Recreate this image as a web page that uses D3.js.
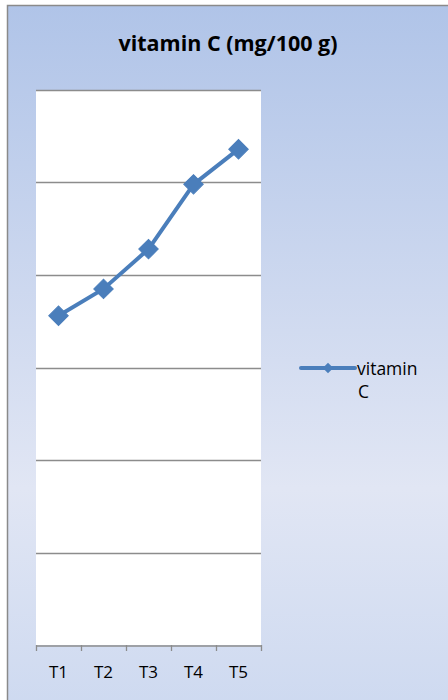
<!DOCTYPE html>
<html><head><meta charset="utf-8">
<script src="https://cdn.jsdelivr.net/npm/d3@7"></script>
<style>html,body{margin:0;padding:0;background:#fff;}svg{display:block;} text{font-family:"Open Sans",sans-serif;}</style>
</head><body>
<script>
const categories = ["T1","T2","T3","T4","T5"];
const values = [35.6, 38.5, 42.8, 49.8, 53.6];
const yTicks = [0,10,20,30,40,50,60];
const seriesName = "vitamin C";
const title = "vitamin C (mg/100 g)";

(function(){
const W = 448, H = 700;
const svg = d3.select("body").append("svg").attr("width", W).attr("height", H);
const defs = svg.append("defs");
const grad = defs.append("linearGradient").attr("id","bg").attr("x1",0).attr("y1",0).attr("x2",0).attr("y2",1);
grad.append("stop").attr("offset","0%").attr("stop-color","#b0c4e8");
grad.append("stop").attr("offset","68%").attr("stop-color","#e1e6f4");
grad.append("stop").attr("offset","100%").attr("stop-color","#cdd9f0");

svg.append("rect").attr("x",7.5).attr("y",5.5).attr("width",W+10).attr("height",H+10)
  .attr("fill","url(#bg)").attr("stroke","#8a8a8a").attr("stroke-width",1.5);

svg.append("text").attr("x",228).attr("y",51).attr("text-anchor","middle")
  .style("font-weight","bold").style("font-size","21.5px")
  .attr("fill","#000").text(title);

const pL = 36, pR = 261, pT = 90, pB = 645;
svg.append("rect").attr("x",pL).attr("y",pT).attr("width",pR-pL).attr("height",pB-pT).attr("fill","#fff");

const x = d3.scaleBand().domain(categories).range([pL,pR]).padding(0);
const y = d3.scaleLinear().domain([0,60]).range([pB,pT]);

svg.append("g").selectAll("line").data(yTicks.slice(1)).join("line")
  .attr("x1",pL).attr("x2",pR).attr("y1",d=>Math.round(y(d))+0.5).attr("y2",d=>Math.round(y(d))+0.5)
  .attr("stroke","#8c8c8c").attr("stroke-width",1.3);

const xAxis = svg.append("g").attr("transform",`translate(0,${pB+0.5})`)
  .call(d3.axisBottom(x).tickSize(0).tickPadding(0));
xAxis.select(".domain").attr("stroke","#8c8c8c").attr("stroke-width",1.3);
xAxis.selectAll(".tick").remove();
const bounds = categories.map(c=>x(c)).concat([pR]);
svg.append("g").selectAll("line").data(bounds).join("line")
  .attr("x1",d=>d+0.5).attr("x2",d=>d+0.5).attr("y1",pB).attr("y2",pB+6)
  .attr("stroke","#8c8c8c").attr("stroke-width",1.3);
svg.append("g").selectAll("text").data(categories).join("text")
  .attr("x",d=>x(d)+x.bandwidth()/2).attr("y",678).attr("text-anchor","middle")
  .style("font-size","17px").attr("fill","#000").text(d=>d);

const pts = categories.map((c,i)=>[x(c)+x.bandwidth()/2, y(values[i])]);
svg.append("path").attr("d",d3.line()(pts)).attr("fill","none")
  .attr("stroke","#4a7ebb").attr("stroke-width",4).attr("stroke-linejoin","round");
const sym = d3.symbol().type(d3.symbolSquare).size(190);
svg.append("g").selectAll("path").data(pts).join("path")
  .attr("d",sym).attr("transform",d=>`translate(${d[0]},${d[1]}) rotate(45)`)
  .attr("fill","#4a7ebb").attr("stroke","#4a7ebb").attr("stroke-width",1);

const lg = svg.append("g");
lg.append("line").attr("x1",301).attr("x2",355).attr("y1",368).attr("y2",368)
  .attr("stroke","#4a7ebb").attr("stroke-width",4).attr("stroke-linecap","round");
lg.append("path").attr("d",d3.symbol().type(d3.symbolSquare).size(55)).attr("transform","translate(328,368) rotate(45)")
  .attr("fill","#4a7ebb");
const words = seriesName.split(" ");
lg.append("text").attr("x",357).attr("y",375).style("font-size","17.5px").attr("fill","#000").text(words[0]);
lg.append("text").attr("x",358).attr("y",398).style("font-size","17.5px").attr("fill","#000").text(words[1]);
})();
</script>
</body></html>
